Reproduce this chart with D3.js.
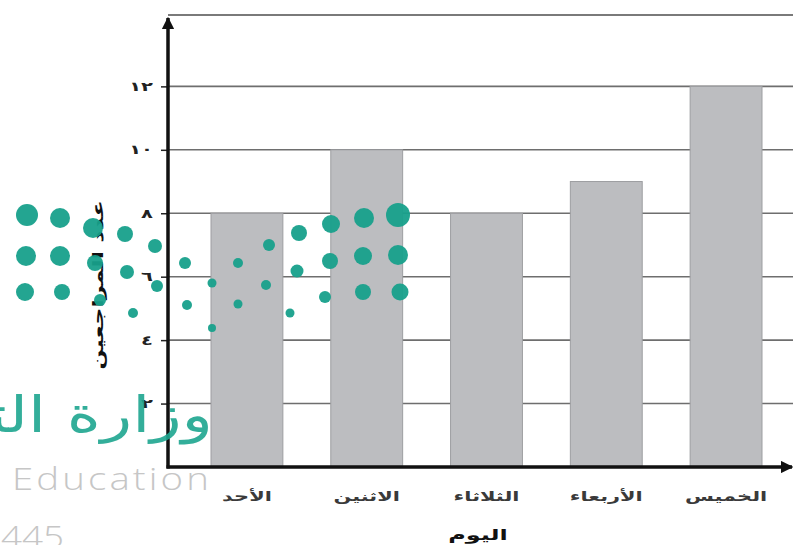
<!DOCTYPE html>
<html lang="ar">
<head>
<meta charset="utf-8">
<script src="https://cdn.jsdelivr.net/npm/d3@7"></script>
<style>
  html, body { margin: 0; padding: 0; background: #ffffff; }
  svg { display: block; }
</style>
</head>
<body>
<svg id="chart" width="793" height="545"></svg>
<script>
// ---- data ----
const days = ["الأحد", "الاثنين", "الثلاثاء", "الأربعاء", "الخميس"];
const visitors = [8, 10, 8, 9, 12];
const yTickValues = [2, 4, 6, 8, 10, 12];
const yTickLabels = ["٢", "٤", "٦", "٨", "١٠", "١٢"];
const xTitle = "اليوم";
const yTitle = "عدد المراجعين";

// decorative watermark (logo dots of the source page)
const logoDots = [
  [27,215,11],[60,218,10],[93,228,10],[125,234,8],[155,246,7],[185,263,6],
  [26,256,10],[60,256,10],[95,263,8],[127,272,7],[157,286,6],[187,305,5],
  [25,292,9],[62,292,8],[100,300,6],[133,313,5],
  [212,283,4.5],[212,328,4],[238,263,5],[269,245,6],[238,304,4.5],[266,285,5],
  [290,313,4.5],[299,233,8],[297,271,6.5],[325,297,6],[331,224,9],[330,261,8],
  [364,218,10],[363,256,9],[363,292,8],[398,215,12],[398,255,10],[400,292,8.5]
];

const svg = d3.select("#chart");
const arabicFont = "'DejaVu Sans', sans-serif";

const x = d3.scaleBand().domain(days).range([211, 762]).paddingInner(0.4).paddingOuter(0);
const y = d3.scaleLinear().domain([0, 14.25]).range([467, 15]);
const axisX = 168, rightEdge = 793;

// top frame line
svg.append("line")
  .attr("x1", axisX).attr("x2", rightEdge)
  .attr("y1", y(14.25)).attr("y2", y(14.25))
  .attr("stroke", "#7a7a7a").attr("stroke-width", 2);

// gridlines
svg.append("g").selectAll("line").data(yTickValues).join("line")
  .attr("x1", axisX).attr("x2", rightEdge)
  .attr("y1", d => y(d)).attr("y2", d => y(d))
  .attr("stroke", "#6e6e6e").attr("stroke-width", 1.6);

// bars
svg.append("g").selectAll("rect").data(days).join("rect")
  .attr("x", d => x(d))
  .attr("y", (d, i) => y(visitors[i]))
  .attr("width", x.bandwidth())
  .attr("height", (d, i) => y(0) - y(visitors[i]))
  .attr("fill", "#bcbdc0")
  .attr("stroke", "#9d9ea1").attr("stroke-width", 1);

// y axis with ticks
const yAxis = d3.axisLeft(y).tickValues(yTickValues)
  .tickFormat((d, i) => yTickLabels[i]).tickSize(7).tickPadding(0);
const gy = svg.append("g").attr("transform", `translate(${axisX},0)`).call(yAxis);
gy.select(".domain").remove();
gy.selectAll(".tick line").attr("stroke", "#222").attr("stroke-width", 1.5);
gy.selectAll(".tick text")
  .attr("font-family", arabicFont).attr("font-size", 13).attr("font-weight", "bold")
  .attr("fill", "#222")
  .attr("x", 0)
  .attr("transform", "translate(-15,0) scale(1.5,1)");

// axis lines with arrows
const defs = svg.append("defs");
defs.append("marker").attr("id", "arrow")
  .attr("viewBox", "0 0 10 10").attr("refX", 9).attr("refY", 5)
  .attr("markerWidth", 3.6).attr("markerHeight", 3.6).attr("orient", "auto")
  .append("path").attr("d", "M0,0 L10,5 L0,10 Z").attr("fill", "#111");

svg.append("line")
  .attr("x1", axisX).attr("x2", axisX)
  .attr("y1", y(0) + 1.5).attr("y2", 18)
  .attr("stroke", "#111").attr("stroke-width", 3.5)
  .attr("marker-end", "url(#arrow)");
svg.append("line")
  .attr("x1", axisX - 1.5).attr("x2", 792)
  .attr("y1", y(0)).attr("y2", y(0))
  .attr("stroke", "#111").attr("stroke-width", 3.5)
  .attr("marker-end", "url(#arrow)");

// x labels
svg.append("g").selectAll("text").data(days).join("text")
  .attr("transform", d => `translate(${x(d) + x.bandwidth() / 2},497) scale(1.55,1)`)
  .attr("text-anchor", "middle").attr("dominant-baseline", "middle")
  .attr("font-family", arabicFont).attr("font-size", 13.5).attr("font-weight", "bold")
  .attr("fill", "#3a3a3a")
  .text(d => d);

// axis titles
svg.append("text")
  .attr("transform", "translate(478,536) scale(1.6,1)")
  .attr("text-anchor", "middle").attr("dominant-baseline", "middle")
  .attr("font-family", arabicFont).attr("font-size", 15).attr("font-weight", "bold")
  .attr("fill", "#111")
  .text(xTitle);

svg.append("text")
  .attr("transform", "translate(99,285) rotate(-90) scale(1.6,1)")
  .attr("text-anchor", "middle").attr("dominant-baseline", "middle")
  .attr("font-family", arabicFont).attr("font-size", 15).attr("font-weight", "bold")
  .attr("fill", "#111")
  .text(yTitle);

// ---- watermark overlay ----
const wm = svg.append("g").attr("class", "watermark");
wm.selectAll("circle").data(logoDots).join("circle")
  .attr("cx", d => d[0]).attr("cy", d => d[1]).attr("r", d => d[2])
  .attr("fill", "#17a08b").attr("opacity", 0.95);
wm.append("text")
  .attr("transform", "translate(213,432) scale(1.3,1)")
  .attr("text-anchor", "end")
  .attr("font-family", arabicFont).attr("font-size", 50)
  .attr("fill", "#1ea690").attr("opacity", 0.9)
  .text("وزارة التعليم");
wm.append("text")
  .attr("transform", "translate(212,490) scale(1.2,1)")
  .attr("text-anchor", "end")
  .attr("letter-spacing", 2.6)
  .attr("font-family", "'Open Sans', sans-serif").attr("font-weight", 300).attr("font-size", 32)
  .attr("fill", "#c6c6c6")
  .text("Ministry of Education");
wm.append("text")
  .attr("transform", "translate(64,548) scale(1.15,1)")
  .attr("text-anchor", "end")
  .attr("font-family", "'Open Sans', sans-serif").attr("font-weight", 300).attr("font-size", 32)
  .attr("fill", "#c6c6c6")
  .text("1445");
</script>
</body>
</html>
